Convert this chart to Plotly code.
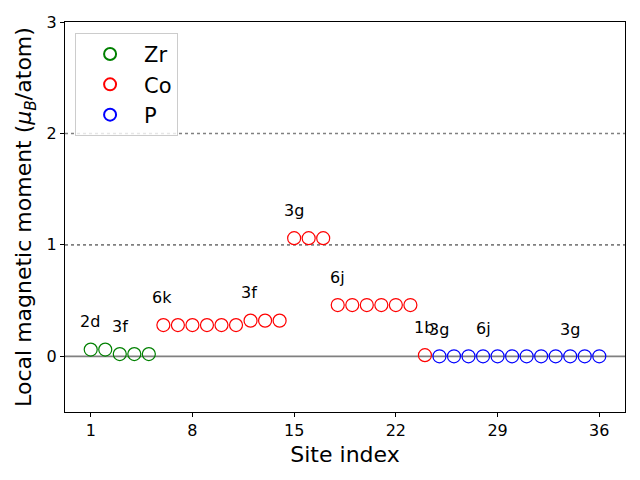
import plotly.graph_objects as go


# --------------------------------------------------------
# DATA
# --------------------------------------------------------

zr_sites = [1, 2, 3, 4, 5]
zr_moments = [0.06, 0.06, 0.02, 0.02, 0.02]

co_sites = list(range(6, 25))
co_moments = [0.28, 0.28, 0.28, 0.28, 0.28, 0.28,
              0.32, 0.32, 0.32,
              1.06, 1.06, 1.06,
              0.46, 0.46, 0.46, 0.46, 0.46, 0.46,
              0.01]

p_sites = list(range(25, 37))
p_moments = [0.0] * 12

label_text = ["2d", "3f", "6k", "3f", "3g", "6j", "1b", "3g", "6j", "3g"]
label_x = [0.93, 3.0, 5.9, 11.9, 15.0, 17.95, 23.95, 25.0, 28.0, 34.0]
label_y = [0.31, 0.27, 0.53, 0.575, 1.31, 0.71, 0.26, 0.24, 0.245, 0.24]

x_ticks = [1, 8, 15, 22, 29, 36]
y_ticks = [0, 1, 2, 3]


# --------------------------------------------------------
# FIGURE
# --------------------------------------------------------

FONT = "DejaVu Sans"

fig = go.Figure()

for name, xs, ys, color in [
    ("Zr", zr_sites, zr_moments, "green"),
    ("Co", co_sites, co_moments, "red"),
    ("P", p_sites, p_moments, "blue"),
]:
    fig.add_trace(
        go.Scatter(
            x=xs,
            y=ys,
            mode="markers",
            name=name,
            marker=dict(
                symbol="circle-open",
                size=13,
                color=color,
                line=dict(width=1.2, color=color)
            )
        )
    )

# reference lines
fig.add_shape(type="line", xref="paper", x0=0, x1=1, y0=0, y1=0,
              line=dict(color="gray", width=1.8), layer="below")
for yv in [1, 2]:
    fig.add_shape(type="line", xref="paper", x0=0, x1=1, y0=yv, y1=yv,
                  line=dict(color="gray", width=1.6, dash="dot"), layer="below")

for t, x, y in zip(label_text, label_x, label_y):
    fig.add_annotation(
        x=x, y=y, text=t, showarrow=False,
        font=dict(family=FONT, size=16, color="black")
    )

fig.update_layout(
    width=640,
    height=480,
    plot_bgcolor="white",
    paper_bgcolor="white",
    font=dict(family=FONT, color="black"),
    margin=dict(l=65, r=15, t=22, b=68),
    showlegend=True,
    legend=dict(
        x=0.018, y=0.972,
        xanchor="left", yanchor="top",
        bordercolor="#cccccc",
        borderwidth=1,
        bgcolor="rgba(255,255,255,0.8)",
        font=dict(family=FONT, size=21),
        itemsizing="constant",
        itemwidth=58,
        tracegroupgap=0
    )
)

fig.update_xaxes(
    range=[-0.77, 37.77],
    tickvals=x_ticks,
    ticks="outside",
    ticklen=4,
    tickcolor="black",
    tickfont=dict(size=16),
    showgrid=False,
    zeroline=False,
    showline=True,
    linecolor="black",
    linewidth=1,
    mirror=True,
    title=dict(text="Site index", font=dict(size=22), standoff=7)
)

fig.update_yaxes(
    range=[-0.5, 3],
    tickvals=y_ticks,
    ticks="outside",
    ticklen=4,
    tickcolor="black",
    tickfont=dict(size=16),
    showgrid=False,
    zeroline=False,
    showline=True,
    linecolor="black",
    linewidth=1,
    mirror=True,
    title=dict(text="Local magnetic moment (<i>μ</i><sub><i>B</i></sub>/atom)",
               font=dict(size=22), standoff=8)
)

# page body has a default 8px margin; remove it so the figure sits at (0, 0)
fig.write_html("out.html",
               config={"displayModeBar": False},
               post_script="document.body.style.margin='0';")
